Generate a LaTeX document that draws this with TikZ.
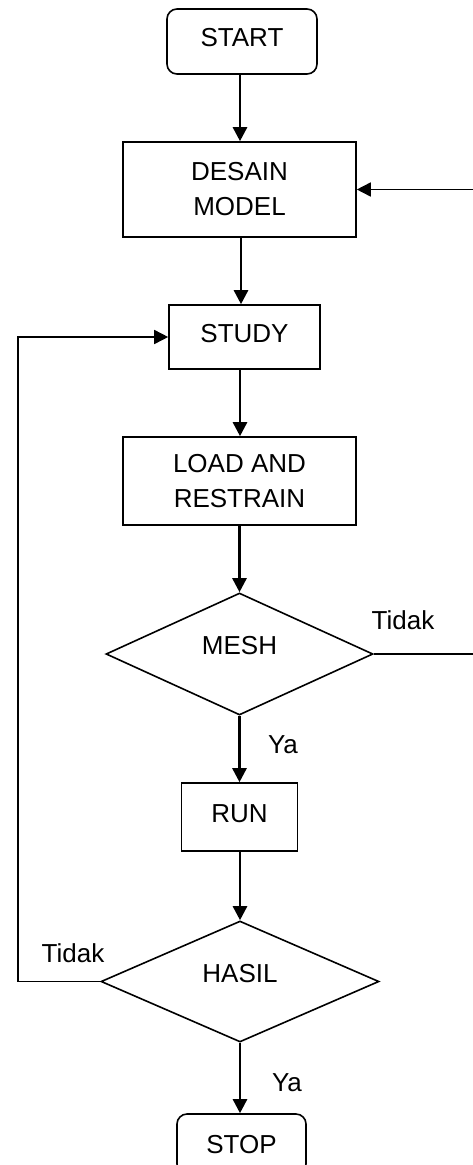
\documentclass[tikz,border=0pt]{standalone}
\usepackage{fontspec}
\setmainfont{Liberation Sans}
\usetikzlibrary{shapes.geometric,arrows.meta}
\begin{document}
\begin{tikzpicture}[x=1pt,y=-1pt,
  every node/.style={font=\fontsize{26}{35}\selectfont, inner sep=0pt},
  procbox/.style={draw, line width=1.6pt, rectangle, align=center},
  termbox/.style={procbox, rounded corners=10pt},
  decision/.style={draw, line width=1.6pt, diamond, text height=19pt, text depth=18pt},
  flow/.style={line width=2.6pt, -{Triangle[length=14pt,width=14pt]}},
  loopflow/.style={line width=1.6pt, -{Triangle[length=14pt,width=14pt]}},
  lbl/.style={font=\fontsize{26}{35}\selectfont}]
\useasboundingbox (0,0) rectangle (473,1165);

% process steps
\node[termbox, minimum width=150pt, minimum height=65pt, text height=19pt, text depth=9pt] (start) at (242,41.5) {START};
\node[procbox, minimum width=233pt, minimum height=95pt] (desain) at (239.5,189.5) {DESAIN\\MODEL};
\node[procbox, minimum width=151pt, minimum height=64pt, text height=19pt, text depth=9pt] (study) at (244.5,337) {STUDY};
\node[procbox, minimum width=233pt, minimum height=88pt] (load) at (239.5,481) {LOAD AND\\RESTRAIN};
\node[decision, minimum width=267pt, minimum height=122pt] (mesh) at (239.5,654) {MESH};
\node[procbox, minimum width=116pt, minimum height=68pt, text height=19pt, text depth=9pt] (run) at (239.5,817) {RUN};
\node[decision, minimum width=278pt, minimum height=121pt] (hasil) at (240,981.5) {HASIL};
\node[termbox, minimum width=129pt, minimum height=60pt, text height=19pt, text depth=0pt] (stop) at (241.5,1144) {STOP};

% branch labels
\node[lbl] (tidak1) at (403,620) {Tidak};
\node[lbl] (ya1) at (283,745) {Ya};
\node[lbl] (tidak2) at (73,953) {Tidak};
\node[lbl] (ya2) at (287,1083) {Ya};

% main flow
\draw[flow] (start.south -| 240,0) -- (desain.north -| 240,0);
\draw[flow] (desain.south -| 241,0) -- (study.north -| 241,0);
\draw[flow] (study.south -| 240,0) -- (load.north -| 240,0);
\draw[flow] (load.south -| mesh.north) -- (mesh.north);
\draw[flow] (mesh.south) -- (run.north -| mesh.south);
\draw[flow] (run.south -| hasil.north) -- (hasil.north);
\draw[flow] (hasil.south) -- (stop.north -| hasil.south);

% loop back from HASIL to STUDY
\coordinate (lcorner) at (18,981.5);
\draw[loopflow] (hasil.west) -- (lcorner) |- (study.west);

% loop back from MESH to DESAIN MODEL
\coordinate (rcorner) at (480,654);
\draw[loopflow] (mesh.east) -- (rcorner) |- (desain.east);
\end{tikzpicture}
\end{document}
